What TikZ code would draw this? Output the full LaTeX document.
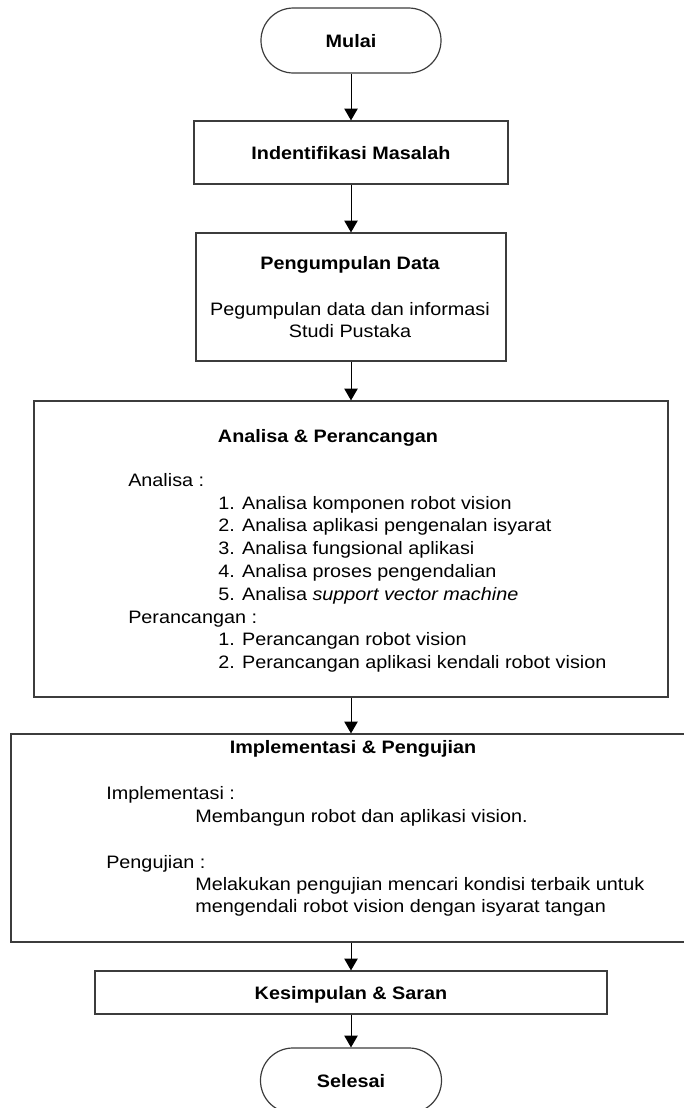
\documentclass[tikz,border=0pt]{standalone}
\usepackage{fontspec}
\setmainfont{Liberation Sans}[FakeStretch=1.1]
\usetikzlibrary{arrows.meta}
\tikzset{>={Triangle[width=10pt,length=8.8pt]}}
\definecolor{boxline}{RGB}{60,60,60}

\begin{document}
\begin{tikzpicture}[x=0.75pt, y=-0.75pt,
    font=\fontsize{13.5pt}{16.9pt}\selectfont,
    flowbox/.style={draw=boxline, line width=0.9pt, inner sep=0pt, text depth=0pt, font=\fontsize{13.5pt}{16.9pt}\selectfont\bfseries},
    terminal/.style={flowbox, rounded corners=24.3pt, minimum width=135pt, minimum height=48.75pt},
    flowline/.style={->, line width=0.75pt, black},
    boxtext/.style={inner sep=0pt, anchor=base west},
    boxtitle/.style={inner sep=0pt, anchor=base, font=\fontsize{13.5pt}{16.9pt}\selectfont\bfseries}]
    \useasboundingbox (0,0) rectangle (684,1108);

    % Boxes of the flow
    \node[terminal] (mulai) at (351,40.5) {Mulai};
    \node[flowbox, minimum width=235.5pt, minimum height=47.25pt] (identifikasi) at (351,152.5) {Indentifikasi Masalah};
    \node[flowbox, minimum width=232.5pt, minimum height=96pt] (pengumpulan) at (351,297) {};
    \node[flowbox, minimum width=475.5pt, minimum height=222pt] (analisa) at (351,549) {};
    \node[flowbox, minimum width=510pt, minimum height=156pt] (implementasi) at (351,838) {};
    \node[flowbox, minimum width=384pt, minimum height=32.25pt] (kesimpulan) at (351,992.5) {Kesimpulan \& Saran};
    \node[terminal, minimum width=135.75pt] (selesai) at (351,1080.5) {Selesai};

    % Pengumpulan data
    \node[boxtitle] (pengTitle) at (350,269) {Pengumpulan Data};
    \node[inner sep=0pt, anchor=base] (pengLineA) at (350,315) {Pegumpulan data dan informasi};
    \node[inner sep=0pt, anchor=base] (pengLineB) at (350,337) {Studi Pustaka};

    % Analisa & perancangan
    \node[boxtitle] (anaTitle) at (328,442) {Analisa \& Perancangan};
    \node[boxtext] (anaHead) at (128,486) {Analisa :};
    \foreach \txt [count=\i] in {1. Analisa komponen robot vision,
        2. Analisa aplikasi pengenalan isyarat,
        3. Analisa fungsional aplikasi,
        4. Analisa proses pengendalian,
        5. Analisa \textit{support vector machine}} {
        \node[boxtext] (anaItem\i) at (218,{509+22.75*(\i-1)}) {\txt};
    }
    \node[boxtext] (rancHead) at (128,623) {Perancangan :};
    \node[boxtext] (rancItem1) at (218,645.5) {1. Perancangan robot vision};
    \node[boxtext] (rancItem2) at (218,668) {2. Perancangan aplikasi kendali robot vision};

    % Implementasi & pengujian
    \node[boxtitle] (impTitle) at (353,753) {Implementasi \& Pengujian};
    \node[boxtext] (impHead) at (106,799) {Implementasi :};
    \node[boxtext] (impLine) at (195,822) {Membangun robot dan aplikasi vision.};
    \node[boxtext] (ujiHead) at (106,868) {Pengujian :};
    \node[boxtext] (ujiLineA) at (195,890) {Melakukan pengujian mencari kondisi terbaik untuk};
    \node[boxtext] (ujiLineB) at (195,912) {mengendali robot vision dengan isyarat tangan};

    % Connectors
    \draw[flowline] (mulai) -- (identifikasi);
    \draw[flowline] (identifikasi) -- (pengumpulan);
    \draw[flowline] (pengumpulan) -- (analisa);
    \draw[flowline] (analisa) -- (implementasi);
    \draw[flowline] (implementasi) -- (kesimpulan);
    \draw[flowline] (kesimpulan) -- (selesai);
\end{tikzpicture}
\end{document}
